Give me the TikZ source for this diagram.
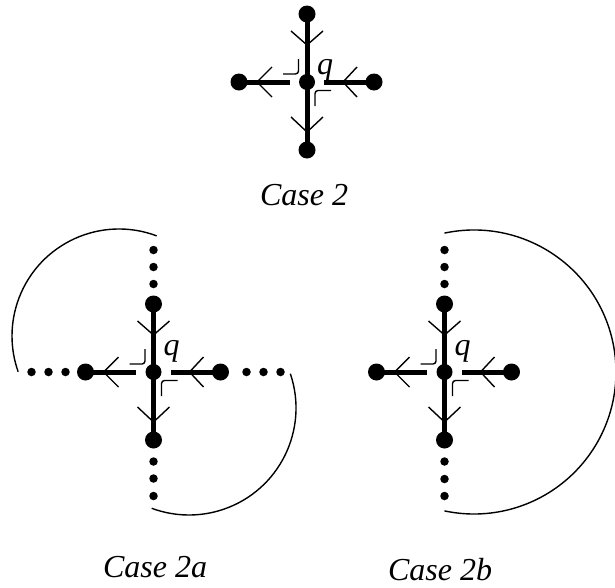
\documentclass[tikz,border=0pt]{standalone}
\usepackage{fontspec}
\setmainfont{Liberation Serif}
\newcommand\qcore[2]{%
  \node[ctr] (#1c) at (0,0) {};
  \node[vtx] (#1t) at (0,-68) {};
  \node[vtx] (#1b) at (0,68) {};
  \node[vtx] (#1l) at (-68,0) {};
  \node[vtx] (#1r) at (67,0) {};
  \draw[strand] (#1t.center) -- (#1b.center);
  \draw[strand, shorten >=9pt] (#1l.center) -- (#1c);
  \draw[strand, shorten >=9pt] (#1r.center) -- (#1c);
  \draw[thinl] (-16,-51) -- (0,-37) -- (16,-51);
  \draw[thinl] (-16,35) -- (0,50) -- (16,35);
  \draw[thinl] (-35,-15) -- (-50,0) -- (-35,15);
  \draw[thinl] (50,-15) -- (36,0) -- (50,15);
  \draw[thinl, rounded corners=3pt] (-24,-8) -- (-8.5,-8) -- (-8.5,-23);
  \draw[thinl, rounded corners=3pt] (8,24) -- (8,8.5) -- (24,8.5);
  \node[lbl, anchor=base] (#1q) at (18,#2) {q};
}
\begin{document}
\begin{tikzpicture}[x=1pt,y=-1pt,
  vtx/.style={circle,fill=black,inner sep=0pt,minimum size=17pt},
  ctr/.style={circle,fill=black,inner sep=0pt,minimum size=16pt},
  sdot/.style={circle,fill=black,inner sep=0pt,minimum size=8.5pt},
  strand/.style={line width=5pt},
  thinl/.style={line width=1.4pt},
  lbl/.style={font=\fontsize{32}{38}\selectfont\itshape, inner sep=0pt}]
\useasboundingbox (0,0) rectangle (615,587);

% Case 2
\begin{scope}[shift={(307,82)}]
  \qcore{T-}{-8}
\end{scope}
\node[lbl, anchor=base] (T-cap) at (304,205) {Case 2};

% Case 2a
\begin{scope}[shift={(153.5,372)}]
  \qcore{A-}{-17}
  \node[sdot] (A-u1) at (0,-88) {};
  \node[sdot] (A-u2) at (0,-105) {};
  \node[sdot] (A-u3) at (0,-122) {};
  \node[sdot] (A-d1) at (0,89.5) {};
  \node[sdot] (A-d2) at (0,106.5) {};
  \node[sdot] (A-d3) at (0,124) {};
  \node[sdot] (A-l1) at (-88,0) {};
  \node[sdot] (A-l2) at (-105,0) {};
  \node[sdot] (A-l3) at (-122,0) {};
  \node[sdot] (A-r1) at (93,0) {};
  \node[sdot] (A-r2) at (110,0) {};
  \node[sdot] (A-r3) at (127,0) {};
\end{scope}
\draw[thinl] (119,336) ++(-69.4:107) arc[start angle=-69.4, end angle=-199.5, radius=107];
\draw[thinl] (189,408) ++(-18.7:107) arc[start angle=-18.7, end angle=110.4, radius=107];
\node[lbl, anchor=base] (A-cap) at (155,577) {Case 2a};

% Case 2b
\begin{scope}[shift={(444.5,372)}]
  \qcore{B-}{-17}
  \node[sdot] (B-u1) at (0,-88) {};
  \node[sdot] (B-u2) at (0,-105) {};
  \node[sdot] (B-u3) at (0,-122) {};
  \node[sdot] (B-d1) at (0,89.5) {};
  \node[sdot] (B-d2) at (0,107) {};
  \node[sdot] (B-d3) at (0,124) {};
\end{scope}
\draw[thinl] (474,372) ++(-102:142) arc[start angle=-102, end angle=102, radius=142];
\node[lbl, anchor=base] (B-cap) at (440,580) {Case 2b};
\end{tikzpicture}
\end{document}
